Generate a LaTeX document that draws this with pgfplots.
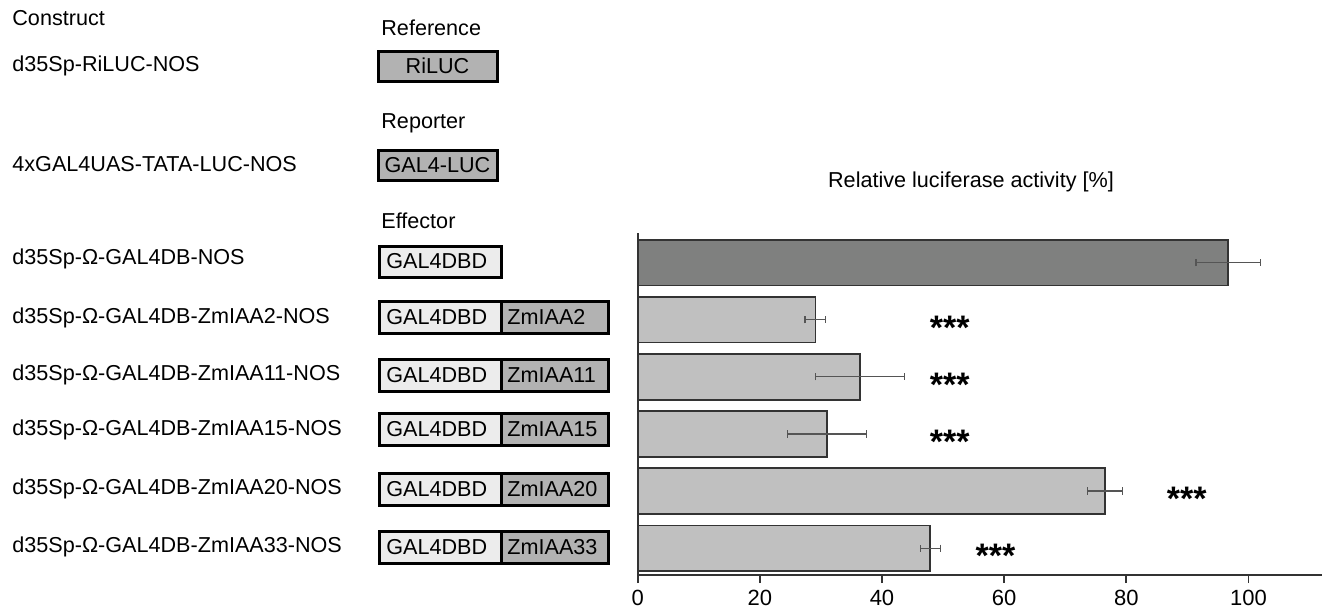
\documentclass[border=0pt]{standalone}
\usepackage{pgfplots}
\pgfplotsset{compat=1.18}
\usepackage{fontspec}
\setmainfont{Liberation Sans}
\definecolor{barlight}{HTML}{C0C0C0}
\definecolor{bardark}{HTML}{7F807F}
\definecolor{boxgray}{HTML}{B2B2B2}
\definecolor{boxlight}{HTML}{ECECEC}
\definecolor{edge}{HTML}{333333}
\definecolor{errc}{HTML}{555555}
\newcommand{\lab}{\fontsize{10.8}{12}\selectfont}
\pgfplotstableread{
y x err
0 96.7 5.3
}\ctrl
\pgfplotstableread{
y x err
1 29.1 1.7
2 36.4 7.3
3 31.0 6.5
4 76.5 2.9
5 47.9 1.65
}\effs
\begin{document}
\begin{tikzpicture}
\begin{scope}[x=0.5pt,y=-0.5pt]
\path[use as bounding box] (0,0) rectangle (1324,605);
% left column labels
\node[anchor=west,inner sep=0] at (12,18) {\lab Construct};
\node[anchor=west,inner sep=0] at (12,66) {\lab d35Sp-RiLUC-NOS};
\node[anchor=west,inner sep=0] at (12,164) {\lab 4xGAL4UAS-TATA-LUC-NOS};
\node[anchor=west,inner sep=0] at (12,259) {\lab d35Sp-Ω-GAL4DB-NOS};
\node[anchor=west,inner sep=0] at (12,318) {\lab d35Sp-Ω-GAL4DB-ZmIAA2-NOS};
\node[anchor=west,inner sep=0] at (12,375) {\lab d35Sp-Ω-GAL4DB-ZmIAA11-NOS};
\node[anchor=west,inner sep=0] at (12,430) {\lab d35Sp-Ω-GAL4DB-ZmIAA15-NOS};
\node[anchor=west,inner sep=0] at (12,489) {\lab d35Sp-Ω-GAL4DB-ZmIAA20-NOS};
\node[anchor=west,inner sep=0] at (12,547) {\lab d35Sp-Ω-GAL4DB-ZmIAA33-NOS};
% section headers
\node[anchor=west,inner sep=0] at (381,28) {\lab Reference};
\node[anchor=west,inner sep=0] at (381,123) {\lab Reporter};
\node[anchor=west,inner sep=0] at (381,221) {\lab Effector};
% reference / reporter boxes
\draw[line width=1.5pt,fill=boxgray] (378,51) rectangle (497,81);
\node at (437.5,66) {\lab RiLUC};
\draw[line width=1.5pt,fill=boxgray] (378,150) rectangle (497,180.5);
\node at (437.5,165) {\lab GAL4-LUC};
% effector boxes
\draw[line width=1.5pt,fill=boxlight] (379.5,246) rectangle (501.5,277);
\node[anchor=west,inner sep=0] at (386,261.5) {\lab GAL4DBD};
\foreach \yt/\nm in {301/ZmIAA2,359.5/ZmIAA11,413.5/ZmIAA15,473.5/ZmIAA20,531/ZmIAA33}{
  \draw[line width=1.5pt,fill=boxgray] (501.5,\yt) rectangle (608.5,\yt+32);
  \draw[line width=1.5pt,fill=boxlight] (379.5,\yt) rectangle (501.5,\yt+32);
  \node[anchor=west,inner sep=0] at (386,\yt+16) {\lab GAL4DBD};
  \node[anchor=west,inner sep=0] at (507,\yt+16) {\lab \nm};
}
% chart title
\node at (971,182) {\lab Relative luciferase activity [\%]};
\end{scope}
\begin{axis}[
  at={(318.85pt,-287.5pt)}, anchor=south west,
  scale only axis, width=342pt, height=171pt,
  xmin=0, xmax=112, ymin=-0.52, ymax=5.47,
  y dir=reverse,
  axis x line=bottom, axis y line=left,
  axis line style={-, line width=1pt, color=edge},
  xtick={0,20,40,60,80,100}, ytick=\empty,
  tick align=outside, major tick length=4pt,
  tick style={line width=0.8pt, color=edge},
  x tick label style={font=\fontsize{11}{12}\selectfont},
  /pgf/number format/assume math mode=true,
  xbar, bar width=0.8, bar shift=0pt,
  clip=false,
]
\addplot[fill=bardark, draw=edge, line width=0.8pt,
  error bars/.cd, x dir=both, x explicit,
  error bar style={color=errc, line width=0.6pt},
  error mark options={rotate=90, color=errc, line width=0.6pt, mark size=1.8pt}]
  table[x=x, y=y, x error=err] {\ctrl};
\addplot[fill=barlight, draw=edge, line width=0.8pt,
  error bars/.cd, x dir=both, x explicit,
  error bar style={color=errc, line width=0.6pt},
  error mark options={rotate=90, color=errc, line width=0.6pt, mark size=1.8pt}]
  table[x=x, y=y, x error=err] {\effs};
\foreach \xs/\ys in {51.1/1, 51.1/2, 51.1/3, 89.9/4, 58.6/5}{
  \edef\tmp{\noexpand\node[font=\noexpand\fontsize{17}{17}\noexpand\selectfont\noexpand\bfseries, yshift=-3.8pt] at (axis cs:\xs,\ys) {***};}
  \tmp
}
\end{axis}
\end{tikzpicture}
\end{document}
